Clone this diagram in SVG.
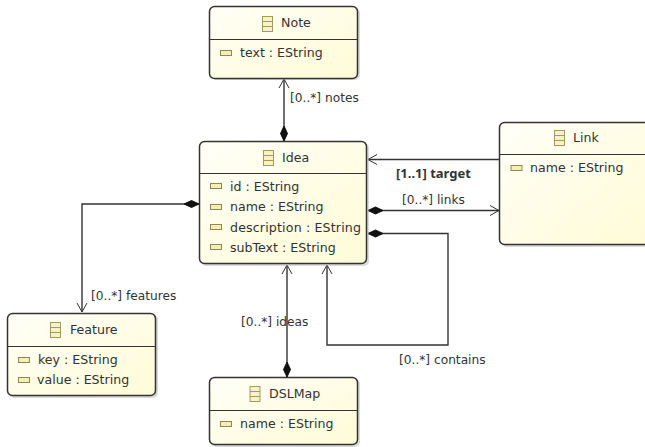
<svg xmlns="http://www.w3.org/2000/svg" width="645" height="447" viewBox="0 0 645 447">
<defs>
<linearGradient id="g" x1="0" y1="0" x2="1" y2="1"><stop offset="0" stop-color="#fffff8"/><stop offset="0.5" stop-color="#fffde6"/><stop offset="1" stop-color="#fffbd8"/></linearGradient>
<g id="cls"><rect x="0" y="0" width="10" height="15" fill="#f7f1c8" stroke="#a39a5c" stroke-width="1"/><path d="M0 5H10M0 10H10" stroke="#a39a5c" stroke-width="1" fill="none"/></g>
<rect id="attr" x="0" y="0" width="11" height="5" fill="#f3eeb6" stroke="#8f8750" stroke-width="1"/>
<marker id="open" markerWidth="12" markerHeight="12" refX="10" refY="6" orient="auto" markerUnits="userSpaceOnUse"><path d="M1 1L10 6L1 11" fill="none" stroke="#333" stroke-width="1"/></marker>
<marker id="dia" markerWidth="18" markerHeight="10" refX="0.5" refY="5" orient="auto" markerUnits="userSpaceOnUse"><path d="M0.5 5L8 1.5L15.5 5L8 8.5Z" fill="#111" stroke="#111"/></marker>
</defs>
<style>
text{font-family:"DejaVu Sans","Noto Sans",sans-serif;font-size:12.2px;fill:#333}
.n text{font-size:12.6px}
.box{fill:url(#g);stroke:#333;stroke-width:1.5}
.shadow{fill:#bbb;opacity:.55}
.div{stroke:#333;stroke-width:1.2;fill:none}
.c{fill:none;stroke:#333;stroke-width:1.4}
text.b{font-family:"Noto Sans","DejaVu Sans",sans-serif;font-weight:700;font-size:13px}
</style>
<g id="connectors">
<path class="c" d="M284 141V79" marker-start="url(#dia)" marker-end="url(#open)"/>
<path class="c" d="M199 204H82V312" marker-start="url(#dia)" marker-end="url(#open)"/>
<path class="c" d="M287 377V265" marker-start="url(#dia)" marker-end="url(#open)"/>
<path class="c" d="M368 210.500H499" marker-start="url(#dia)" marker-end="url(#open)"/>
<path class="c" d="M368 233.500H448V345H327V265" marker-start="url(#dia)" marker-end="url(#open)"/>
<path class="c" d="M499 159.500H368" marker-end="url(#open)"/>
<text x="290" y="102">[0..*] notes</text>
<text x="396" y="178" class="b">[1..1] target</text>
<text x="402" y="204">[0..*] links</text>
<text x="91" y="300">[0..*] features</text>
<text x="241" y="326">[0..*] ideas</text>
<text x="399" y="364">[0..*] contains</text>
</g>
<g id="note" class="n">
<rect class="shadow" x="211" y="8" width="149" height="72" rx="5"/>
<rect class="box" x="209.500" y="6.500" width="148" height="72" rx="5"/>
<path class="div" d="M209.500 39.500H357.500"/>
<use href="#cls" x="262.500" y="16.500"/><text x="281" y="27">Note</text>
<use href="#attr" x="220.500" y="50.500"/><text x="240" y="57">text : EString</text>
</g>
<g id="idea" class="n">
<rect class="shadow" x="201" y="143" width="168" height="123" rx="5"/>
<rect class="box" x="199.500" y="141.500" width="167" height="122" rx="5"/>
<path class="div" d="M199.500 173.500H366.500"/>
<use href="#cls" x="263.500" y="150.500"/><text x="282" y="162">Idea</text>
<use href="#attr" x="210.500" y="183.500"/><text x="230" y="191">id : EString</text>
<use href="#attr" x="210.500" y="204.500"/><text x="230" y="211">name : EString</text>
<use href="#attr" x="210.500" y="224.500"/><text x="230" y="232" textLength="131">description : EString</text>
<use href="#attr" x="210.500" y="244.500"/><text x="230" y="252">subText : EString</text>
</g>
<g id="link" class="n">
<rect class="shadow" x="502" y="124" width="150" height="123" rx="5"/>
<rect class="box" x="499.500" y="122.500" width="150" height="122" rx="5"/>
<path class="div" d="M499.500 154.500H645"/>
<use href="#cls" x="554.500" y="130.500"/><text x="573" y="142">Link</text>
<use href="#attr" x="511" y="165.500"/><text x="530" y="172">name : EString</text>
</g>
<g id="feature" class="n">
<rect class="shadow" x="9" y="315" width="149" height="83" rx="5"/>
<rect class="box" x="7.500" y="313.500" width="148" height="82" rx="5"/>
<path class="div" d="M7.500 346.500H155.500"/>
<use href="#cls" x="50.500" y="322.500"/><text x="70" y="334">Feature</text>
<use href="#attr" x="18.500" y="357.500"/><text x="38" y="364">key : EString</text>
<use href="#attr" x="18.500" y="377.500"/><text x="37" y="384">value : EString</text>
</g>
<g id="dslmap" class="n">
<rect class="shadow" x="211" y="379" width="149" height="68" rx="5"/>
<rect class="box" x="209.500" y="377.500" width="148" height="67" rx="5"/>
<path class="div" d="M209.500 410.500H357.500"/>
<use href="#cls" x="250" y="386.500"/><text x="269" y="398">DSLMap</text>
<use href="#attr" x="220.500" y="421.500"/><text x="240" y="428">name : EString</text>
</g>
</svg>
